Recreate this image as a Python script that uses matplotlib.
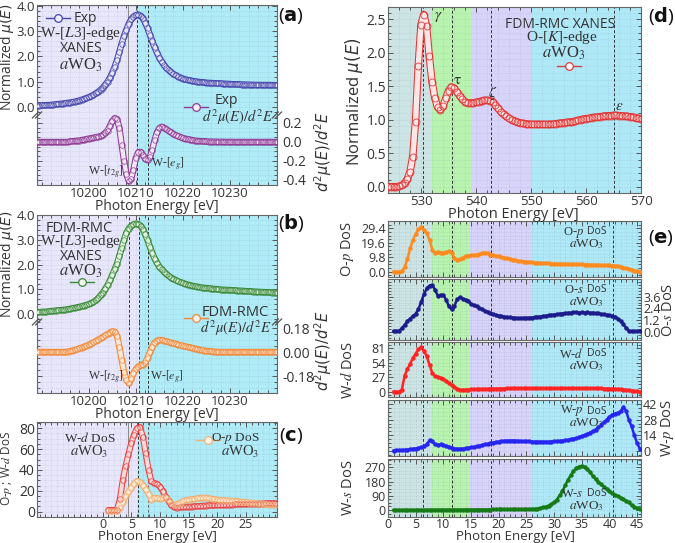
import numpy as np
import matplotlib
matplotlib.use('Agg')
import matplotlib.pyplot as plt
from matplotlib.lines import Line2D
from matplotlib.ticker import AutoMinorLocator

# ---------------- data ----------------
E_A = np.arange(10189.0, 10240.01, 0.5)
mu_exp = [0.06,0.06,0.07,0.07,0.08,0.08,0.09,0.10,0.11,0.12,
          0.13,0.14,0.15,0.165,0.18,0.195,0.21,0.235,0.26,0.29,
          0.32,0.355,0.39,0.43,0.48,0.54,0.60,0.68,0.77,0.88,
          1.00,1.16,1.35,1.58,1.85,2.17,2.50,2.80,3.05,3.28,
          3.45,3.56,3.62,3.64,3.60,3.49,3.32,3.10,2.85,2.59,
          2.35,2.14,1.95,1.79,1.65,1.54,1.45,1.37,1.30,1.25,
          1.20,1.16,1.12,1.09,1.07,1.05,1.03,1.015,1.00,0.99,
          0.98,0.97,0.96,0.955,0.95,0.945,0.94,0.935,0.93,0.925,
          0.92,0.915,0.91,0.905,0.90,0.90,0.895,0.89,0.89,0.885,
          0.885,0.88,0.88,0.875,0.875,0.875,0.87,0.87,0.87,0.87,
          0.865,0.865,0.865]
d2_exp = [0,0,0,0,0,0,0,0,0,0,
          0.0,0.0,0.0,0.0,0.005,0.008,0.01,0.013,0.015,0.02,
          0.025,0.03,0.035,0.04,0.045,0.05,0.055,0.06,0.075,0.095,
          0.12,0.17,0.22,0.25,0.24,0.15,-0.03,-0.2,-0.34,-0.41,
          -0.39,-0.29,-0.17,-0.11,-0.105,-0.14,-0.175,-0.19,-0.16,-0.08,
          0.02,0.1,0.145,0.16,0.15,0.135,0.115,0.1,0.085,0.07,
          0.06,0.05,0.04,0.035,0.03,0.025,0.02,0.015,0.012,0.01,
          0.008,0.006,0.005,0.004,0.004,0.003,0.003,0.002,0.002,0.002,
          0.001,0.001,0.001,0.001,0,0,0,0,0,0,
          0,0,0,0,0,0,0,0,0,0,
          0,0,0]
mu_fdm = [0.08,0.08,0.09,0.09,0.10,0.11,0.12,0.13,0.14,0.15,
          0.16,0.17,0.18,0.195,0.21,0.23,0.25,0.27,0.29,0.315,
          0.34,0.37,0.40,0.44,0.49,0.55,0.64,0.75,0.87,1.01,
          1.17,1.36,1.58,1.80,2.03,2.35,2.68,3.00,3.28,3.45,
          3.56,3.62,3.65,3.63,3.57,3.42,3.22,2.98,2.71,2.46,
          2.24,2.06,1.91,1.80,1.71,1.62,1.54,1.47,1.42,1.37,
          1.32,1.28,1.25,1.22,1.19,1.17,1.14,1.12,1.10,1.09,
          1.07,1.06,1.05,1.04,1.03,1.02,1.01,1.00,0.99,0.985,
          0.98,0.975,0.97,0.965,0.955,0.95,0.945,0.94,0.935,0.925,
          0.92,0.915,0.91,0.905,0.90,0.895,0.89,0.885,0.88,0.875,
          0.87,0.865,0.86]
d2_fdm = [0,0,0,0,0,0,0,0,0,0,
          0.0,0.0,0.0,0.003,0.006,0.01,0.015,0.02,0.027,0.033,
          0.04,0.047,0.055,0.063,0.072,0.082,0.092,0.102,0.112,0.124,
          0.135,0.146,0.154,0.152,0.12,0.04,-0.06,-0.15,-0.21,-0.235,
          -0.2,-0.16,-0.13,-0.11,-0.1,-0.095,-0.08,-0.045,0.0,0.04,
          0.07,0.085,0.09,0.09,0.085,0.08,0.075,0.07,0.065,0.06,
          0.055,0.05,0.046,0.042,0.038,0.034,0.03,0.026,0.022,0.018,
          0.014,0.011,0.008,0.006,0.004,0.003,0.002,0.001,0,0,
          0,0,0,0,0,0,0,0,0,0,
          0,0,0,0,0,0,0,0,0,0,
          0,0,0]

E_C = np.arange(1.0, 30.01, 0.5)
wd_c = [1.5,1.5,1.5,2.0,12,30,44,55,66,74,
        80,81,72,56,40,29,27.5,26.5,24,19.5,
        14,10,6.5,4.5,4.0,4.2,4.5,4.7,4.8,4.9,
        5.0,5.2,5.4,5.6,5.8,6.0,6.1,6.2,6.3,6.4,
        6.5,6.6,6.7,6.8,6.9,7.0,7.1,7.2,7.3,7.4,
        7.5,7.6,7.6,7.7,7.8,7.9,7.9,8.0,8.0]
op_c = [0.5,0.5,0.5,1.0,4,9,15,19,23,27,
        29.5,28.5,25.5,21.5,17,11.5,13,13,12.5,13,
        13.5,11,8,6,7,8.5,10,11,11.5,12,
        12.3,12.7,13.2,13.5,13.4,12.8,12.3,12.0,11.6,11.3,
        11.0,10.8,10.6,10.4,10.2,10.0,9.7,9.4,9.1,8.8,
        8.5,8.2,7.9,7.6,7.3,7.0,6.8,6.6,6.4]

E_D = np.arange(524.0, 570.01, 0.5)
mu_ok = [0.0,0.0,0.0,0.0,0.005,0.02,0.05,0.11,0.22,0.45,
         0.97,1.8,2.42,2.57,2.4,1.95,1.57,1.33,1.19,1.15,
         1.2,1.32,1.43,1.49,1.47,1.42,1.36,1.31,1.27,1.25,
         1.25,1.25,1.26,1.27,1.28,1.29,1.29,1.285,1.27,1.22,
         1.17,1.12,1.08,1.05,1.02,1.0,0.98,0.965,0.955,0.945,
         0.94,0.935,0.93,0.93,0.93,0.93,0.93,0.93,0.93,0.93,
         0.935,0.94,0.945,0.95,0.955,0.96,0.965,0.97,0.98,0.99,
         1.0,1.01,1.015,1.02,1.03,1.035,1.04,1.045,1.05,1.055,
         1.06,1.06,1.065,1.065,1.06,1.06,1.055,1.05,1.045,1.04,
         1.03,1.02,1.01]

E_E = np.arange(1.0, 45.51, 0.5)
dos_op = [0.0,0.0,0.0,0.3,3.0,8.5,15.8,21.5,25.5,28.7,
          30.0,28.0,26.0,21.5,15.0,12.4,13.5,12.8,12.6,13.2,
          13.8,12.5,9.5,7.8,8.3,9.6,10.6,10.9,11.2,11.4,
          11.5,11.9,12.5,12.9,12.4,11.6,11.1,10.7,10.3,10.0,
          9.5,9.0,8.5,8.1,7.7,7.4,7.1,6.9,6.7,6.5,
          6.3,6.2,6.0,5.9,5.8,5.7,5.6,5.5,5.45,5.4,
          5.35,5.3,5.2,5.15,5.1,5.05,5.0,4.95,4.9,4.85,
          4.8,4.75,4.7,4.6,4.5,4.45,4.4,4.3,4.25,4.15,
          4.05,3.8,3.4,2.8,2.3,1.8,1.3,0.8,0.3,0.0]
dos_os = [0.07,0.07,0.1,0.35,0.7,1.05,1.35,1.6,1.85,2.3,
          3.1,3.85,4.45,4.75,4.8,4.3,3.7,3.8,3.75,3.3,
          2.6,2.3,2.65,3.35,3.55,3.4,3.3,3.2,2.85,2.7,
          2.6,2.45,2.3,2.15,2.05,1.92,1.8,1.72,1.65,1.6,
          1.55,1.5,1.47,1.44,1.42,1.4,1.4,1.41,1.42,1.44,
          1.46,1.5,1.53,1.56,1.6,1.64,1.68,1.72,1.76,1.8,
          1.84,1.87,1.9,1.93,1.96,1.98,2.0,1.96,2.0,1.95,
          2.0,1.92,1.97,1.88,1.9,1.82,1.8,1.74,1.7,1.62,
          1.55,1.35,1.1,0.75,0.4,0.1,0.05,0.05,0.05,0.05]
dos_wd = [0,0,0,4,30,42,52,63,71,79,
          83,76,66,50,35,29,27.5,26,24,19.5,
          15.5,12.5,9,5.5,3.5,3.5,3.8,4.0,4.2,4.4,
          4.6,4.8,5.0,5.1,5.3,5.4,5.5,5.6,5.7,5.8,
          5.9,6.0,6.0,6.1,6.1,6.1,6.2,6.2,6.2,6.2,
          6.2,6.2,6.2,6.2,6.2,6.2,6.2,6.2,6.2,6.2,
          6.2,6.2,6.2,6.2,6.2,6.2,6.2,6.2,6.2,6.2,
          6.2,6.2,6.1,6.1,6.0,6.0,5.9,5.8,5.6,5.4,
          5.1,4.8,4.4,3.9,3.3,2.7,2.0,1.3,0.6,0.2]
dos_wp = [0.3,0.5,0.7,0.9,1.0,1.2,1.5,1.9,2.2,2.7,
          3.2,4.0,6.0,9.5,8.5,5.8,5.4,5.8,5.4,4.6,
          3.8,2.9,2.1,1.9,1.9,2.1,2.4,2.8,3.2,3.6,
          4.1,4.6,5.2,5.8,6.4,7.0,7.5,8.0,8.3,8.7,
          9.0,9.2,9.3,9.3,9.2,9.0,8.9,8.7,8.6,8.5,
          8.4,8.3,8.3,8.3,8.3,8.3,8.3,8.4,8.5,8.7,
          8.9,9.2,9.5,9.9,10.3,10.9,11.6,12.4,13.3,14.2,
          15.3,16.5,17.8,19.2,21,23,25.5,28,30.5,32.5,
          33.5,34.2,35.5,39,36,28,22,14,7,2]
dos_ws = [0,0,0,0,0,0,0.2,0.3,0.4,0.5,
          0.6,0.7,0.8,0.9,1.0,1.1,1.2,1.3,1.4,1.5,
          1.6,1.7,1.8,1.9,2.0,2.1,2.2,2.3,2.4,2.5,
          2.6,2.7,2.8,2.9,3.0,3.1,3.2,3.3,3.4,3.5,
          3.6,3.7,3.8,3.9,4.0,4.2,4.4,4.6,4.9,5.3,
          6,7,9,12,16,21,28,37,48,66,
          92,120,155,190,220,246,265,275,278,272,
          258,238,215,195,177,162,148,135,120,106,
          96,87,78,68,58,48,30,20,10,4]

# ---------------- style ----------------
plt.rcParams['font.family'] = ['Open Sans', 'DejaVu Sans']
plt.rcParams['mathtext.fontset'] = 'stix'
SERIF = ['Liberation Serif', 'DejaVu Serif']
TXT = '#333333'

W, H = 675, 543
fig = plt.figure(figsize=(6.75, 5.43), dpi=100)

def rect(l, r, t, b):
    return [l / W, 1 - b / H, (r - l) / W, (b - t) / H]

def fx(px):
    return px / W

def fy(py):
    return 1 - py / H

LAV = '#e8e6fb'
CYA = '#b0ebf8'
TEAL = '#cde4e5'
GRN = '#b8f4b0'
LAV2 = '#d7d3f9'
CYA2 = '#afe9f8'


def style(ax, lsize=10, pad=2):
    ax.tick_params(which='both', direction='in', top=True, right=True,
                   colors='#555555', labelcolor=TXT, labelsize=lsize, width=0.7, pad=pad)
    ax.tick_params(which='major', length=3.5)
    ax.tick_params(which='minor', length=2)
    ax.xaxis.set_minor_locator(AutoMinorLocator())
    ax.yaxis.set_minor_locator(AutoMinorLocator())
    for s in ax.spines.values():
        s.set_color('#666666')
        s.set_linewidth(0.8)
    ax.set_axisbelow('line')
    ax.grid(True, which='both', ls=':', lw=0.5, color='#6f8090', alpha=0.28)


def vline(ax, x, c='#333333', ls=(0, (3, 2)), lw=0.7):
    ax.axvline(x, color=c, ls=ls, lw=lw, zorder=1.6)


def curve(ax, x, y, edge, face, ms=4.0, band=4.6, mew=0.6):
    # tube of overlapping open circles: dark rim, light core, ring texture
    ax.plot(x, y, color=edge, lw=band, solid_capstyle='round', solid_joinstyle='round', zorder=3)
    ax.plot(x, y, color=face, lw=band - 1.5, solid_capstyle='round', solid_joinstyle='round', zorder=3.1)
    ax.plot(x, y, ls='none', marker='o', ms=ms, mfc='none', mec=edge, mew=mew, alpha=0.85, zorder=3.2)


def handle(edge, face, ms=5.5):
    return Line2D([], [], color=edge, lw=1.0, marker='o', ms=ms, mfc=face, mec=edge, mew=0.9)


def key(ax, h, label, px, py, size=10, fam=None):
    leg = ax.legend(handles=[h], labels=[label], loc='center left',
                    bbox_to_anchor=(fx(px), fy(py)), bbox_transform=fig.transFigure,
                    frameon=False, handlelength=1.7, handletextpad=0.3, borderpad=0,
                    borderaxespad=0, prop={'size': size, 'family': fam or ['Open Sans']})
    for t in leg.get_texts():
        t.set_color(TXT)
    return leg


def brk(px, py):
    for dx in (-1.6, 1.6):
        fig.add_artist(Line2D([fx(px + dx - 3), fx(px + dx + 3)], [fy(py + 3), fy(py - 3)],
                              color='#555555', lw=0.9))


def ftext(px, py, s, size=10, fam=None, **kw):
    kw.setdefault('ha', 'center')
    kw.setdefault('va', 'center')
    kw.setdefault('color', TXT)
    fig.text(fx(px), fy(py), s, fontsize=size, family=fam or ['Open Sans', 'DejaVu Sans'], **kw)


def panel_letter(px, py, letter):
    fig.text(fx(px), fy(py), '(' + r'$\mathbf{' + letter + '}$' + ')', fontsize=14,
             ha='center', va='center', color='#111111', math_fontfamily='dejavusans')

# ---------------- panels (a) and (b) ----------------
XL_A = (10189.0, 10240.0)
DASH = (0, (3, 2))
for (top, mid, bot, mu, d2, ecol, fcol, ecol2, fcol2, lines, span0,
     ylim1, ylim2, d2ticks, d2labels) in [
        (5, 115, 185, mu_exp, d2_exp, '#4646ac', '#e6e6f8', '#8e3c96', '#f3e6f5',
         [(10208.4, '#888888', '-'), (10210.2, '#333333', DASH), (10212.5, '#333333', DASH)],
         10210.2, (-0.31, 4.02), (-0.453, 0.284), [-0.4, -0.2, 0.0, 0.2], ['-0.4', '-0.2', '0.0', '0.2']),
        (215, 322, 393, mu_fdm, d2_fdm, '#3a8a3a', '#e4f2e2', '#f08a3c', '#fde9d8',
         [(10208.6, '#333333', DASH), (10210.7, '#333333', DASH), (10212.6, '#333333', DASH)],
         10210.7, (-0.32, 4.0), (-0.3075, 0.225), [-0.18, 0.0, 0.18], ['-0.18', '0.00', '0.18'])]:
    a1 = fig.add_axes(rect(37, 277, top, mid))
    a2 = fig.add_axes(rect(37, 277, mid, bot))
    for ax in (a1, a2):
        ax.axvspan(XL_A[0], span0, color=LAV, zorder=0.5, lw=0)
        ax.axvspan(span0, XL_A[1], color=CYA, zorder=0.5, lw=0)
        for xv, c, ls in lines:
            vline(ax, xv, c=c, ls=ls)
        ax.set_xlim(*XL_A)
        ax.set_xticks([10200, 10210, 10220, 10230])
        style(ax)
    curve(a1, E_A, mu, ecol, fcol)
    curve(a2, E_A, d2, ecol2, fcol2)
    a1.set_ylim(*ylim1)
    a1.set_yticks([0, 1, 2, 3, 4])
    a1.set_yticklabels(['0.0', '1.0', '2.0', '3.0', '4.0'])
    a1.spines['bottom'].set_visible(False)
    a1.tick_params(which='both', bottom=False, labelbottom=False, pad=1.5)
    a1.tick_params(axis='y', labelsize=9.5)
    a2.set_ylim(*ylim2)
    a2.set_yticks(d2ticks)
    a2.set_yticklabels(d2labels)
    a2.spines['top'].set_visible(False)
    a2.tick_params(which='both', top=False, labelleft=False, labelright=True)
    a2.tick_params(axis='x', pad=1.2, labelsize=9.5)
    a2.tick_params(axis='y', pad=4)
    brk(37, mid)
    brk(277, mid)
    if top == 5:
        axA1, axA2 = a1, a2
    else:
        axB1, axB2 = a1, a2

# texts (a)
key(axA1, handle('#4646ac', '#eeeefb'), 'Exp', 46, 19)
ftext(81, 33, r'W-[$L$3]-edge', 11, SERIF)
ftext(81, 49, 'XANES', 10)
ftext(81, 65, r'$a$WO$_3$', 12, SERIF)
key(axA2, handle('#8e3c96', '#f7eff8'), '', 184, 108)
ftext(226, 100, 'Exp', 10)
ftext(238, 117, r'$d^2\mu(E)/d^2E$', 10.5)
ftext(106, 172, r'W-[$t_{2g}$]', 8.5, SERIF)
ftext(168, 164, r'W-[$e_g$]', 8.5, SERIF)
ftext(7.5, 57, r'Normalized $\mu(E)$', 10, rotation=90, math_fontfamily='dejavusans')
ftext(323, 152, r'$d^2\mu(E)/d^2E$', 10.5, rotation=90, math_fontfamily='dejavusans')
ftext(157, 206.5, 'Photon Energy [eV]', 10)
panel_letter(291, 16, 'a')

# texts (b)
ftext(79, 228, 'FDM-RMC', 10.5)
ftext(81, 242, r'W-[$L$3]-edge', 11, SERIF)
ftext(81, 257, 'XANES', 10)
ftext(81, 271, r'$a$WO$_3$', 12, SERIF)
key(axB1, handle('#3a8a3a', '#f0f8ee'), '', 70, 283)
key(axB2, handle('#f08a3c', '#fff3ea'), '', 184, 319)
ftext(235, 312, 'FDM-RMC', 10.5)
ftext(236, 328, r'$d^2\mu(E)/d^2E$', 10.5)
ftext(106, 377, r'W-[$t_{2g}$]', 8.5, SERIF)
ftext(167, 377, r'W-[$e_g$]', 8.5, SERIF)
ftext(7.5, 264, r'Normalized $\mu(E)$', 10, rotation=90, math_fontfamily='dejavusans')
ftext(323, 351, r'$d^2\mu(E)/d^2E$', 10.5, rotation=90, math_fontfamily='dejavusans')
ftext(157, 414.5, 'Photon Energy [eV]', 10)
panel_letter(291, 223, 'b')

# ---------------- panel (c) ----------------
axC = fig.add_axes(rect(37, 277, 422, 517))
XL_C = (-11.45, 30.4)
axC.axvspan(XL_C[0], 6.2, color=LAV, zorder=0.5, lw=0)
axC.axvspan(6.2, XL_C[1], color=CYA, zorder=0.5, lw=0)
vline(axC, 4.5, c='#888888', ls='-')
vline(axC, 6.2)
vline(axC, 7.95, c='#666666')
curve(axC, E_C, wd_c, '#e84040', '#fbd9d9', band=4.4)
curve(axC, E_C, op_c, '#f0ae72', '#fff0dc', band=4.4)
axC.set_xlim(*XL_C)
axC.set_ylim(-5.1, 86)
axC.set_xticks([0, 5, 10, 15, 20, 25])
axC.set_yticks([0, 20, 40, 60, 80])
style(axC)
axC.tick_params(axis='x', pad=0.8, labelsize=9)
axC.tick_params(axis='y', pad=1.5)
key(axC, handle('#e84545', '#fde9e9'), '', 52, 441)
ftext(90, 438.5, r'W-$d$ DoS', 9.5, SERIF)
ftext(89, 452, r'$a$WO$_3$', 10.5, SERIF)
key(axC, handle('#f2b27a', '#fff5e8'), '', 196, 441)
ftext(235, 438.5, r'O-$p$ DoS', 9.5, SERIF)
ftext(240, 452, r'$a$WO$_3$', 10.5, SERIF)
ftext(7, 468, r'O-$p$ ; W-$d$ DoS', 8.5, rotation=90)
ftext(157, 536.5, 'Photon Energy [eV]', 9.5)
panel_letter(291, 436, 'c')

# ---------------- panel (d) ----------------
BANDS_D = [(524, 532, TEAL), (532, 539, GRN), (539, 550, LAV2), (550, 570, CYA2)]
LINES_D = [530.3, 535.6, 542.7, 565.1]
axD = fig.add_axes(rect(388, 641, 7, 193))
for a, b, c in BANDS_D:
    axD.axvspan(a, b, color=c, zorder=0.5, lw=0)
for xv in LINES_D:
    vline(axD, xv)
curve(axD, E_D, mu_ok, '#e23434', '#fde6e6', ms=5.0, band=5.4, mew=0.7)
axD.set_xlim(524, 570)
axD.set_ylim(-0.094, 2.684)
axD.set_xticks([530, 540, 550, 560, 570])
axD.set_yticks([0.0, 0.5, 1.0, 1.5, 2.0, 2.5])
axD.set_yticklabels(['0.0', '0.5', '1.0', '1.5', '2.0', '2.5'])
style(axD, lsize=10, pad=1.5)
axD.tick_params(axis='x', labelsize=9.5, pad=1.2)
ftext(560, 24, 'FDM-RMC XANES', 10)
ftext(562, 38, r'O-[$K$]-edge', 11, SERIF)
ftext(564, 53, r'$a$WO$_3$', 12, SERIF)
key(axD, handle('#e23a3a', '#ffffff'), '', 557, 67)
ftext(438, 16, r'$\gamma$', 11)
ftext(457, 80, r'$\mathrm{\tau}$', 11)
ftext(493, 93, r'$\zeta$', 11)
ftext(619, 107, r'$\varepsilon$', 11)
ftext(354, 102, r'Normalized $\mu(E)$', 12, rotation=90, math_fontfamily='dejavusans')
ftext(513, 214, 'Photon Energy [eV]', 10.5)
panel_letter(661, 16, 'd')

# ---------------- panel (e) ----------------
BANDS_E = [(0, 7.9, TEAL), (7.9, 14.9, GRN), (14.9, 25.8, LAV2), (25.8, 45.7, CYA2)]
LINES_E = [6.25, 11.5, 18.6, 40.7]
SUBS = [
    (221, 277, dos_op, '#ff8a1e', (-3.59, 34.35), [0, 9.8, 19.6, 29.4], ['0.0', '9.8', '19.6', '29.4'], 'left', r'O-$p$ DoS', 'O-$p$', 232),
    (279, 340, dos_os, '#1c1c8c', (-0.854, 5.42), [0, 1.2, 2.4, 3.6], ['0.0', '1.2', '2.4', '3.6'], 'right', r'O-$s$ DoS', 'O-$s$', 290),
    (342, 397, dos_wd, '#ff2424', (-9.9, 92.8), [0, 27, 54, 81], ['0', '27', '54', '81'], 'left', r'W-$d$ DoS', 'W-$d$', 354),
    (400, 456, dos_wp, '#2626f0', (-4.5, 45.6), [0, 14, 28, 42], ['0', '14', '28', '42'], 'right', r'W-$p$ DoS', 'W-$p$', 411),
    (459, 517, dos_ws, '#167a16', (-44.3, 322.5), [0, 90, 180, 270], ['0', '90', '180', '270'], 'left', r'W-$s$ DoS', 'W-$s$', 494),
]
for i, (t, b, vals, col, ylim, yt, ytl, side, ylab, short, ty) in enumerate(SUBS):
    ax = fig.add_axes(rect(388, 641, t, b))
    for a_, b_, c in BANDS_E:
        ax.axvspan(a_, b_, color=c, zorder=0.5, lw=0)
    for xv in LINES_E:
        vline(ax, xv)
    ax.plot(E_E, vals, color=col, lw=1.8, marker='o', ms=2.2, mec=col, mfc=col, zorder=3)
    ax.set_xlim(0, 45.7)
    ax.set_ylim(*ylim)
    ax.set_xticks([0, 5, 10, 15, 20, 25, 30, 35, 40, 45])
    ax.set_yticks(yt)
    ax.set_yticklabels(ytl)
    style(ax, lsize=9, pad=1.5)
    if side == 'right':
        ax.tick_params(axis='y', labelleft=False, labelright=True)
        ftext(668, (t + b) / 2, ylab, 10.5, rotation=90)
    else:
        ftext(348, (t + b) / 2, ylab, 10.5, rotation=90)
    if i < 4:
        ax.tick_params(axis='x', labelbottom=False)
    else:
        ax.tick_params(axis='x', labelsize=9, pad=0.8)
    fig.text(fx(584), fy(ty), short, fontsize=9, family=SERIF, ha='right', va='center', color=TXT)
    fig.text(fx(587), fy(ty), 'DoS', fontsize=7.5, ha='left', va='center', color=TXT)
    ftext(586, ty + 12, r'$a$WO$_3$', 9.5, SERIF)
ftext(515, 536.5, 'Photon Energy [eV]', 9.5)
panel_letter(661, 238, 'e')

fig.savefig('out.png', dpi=100)
